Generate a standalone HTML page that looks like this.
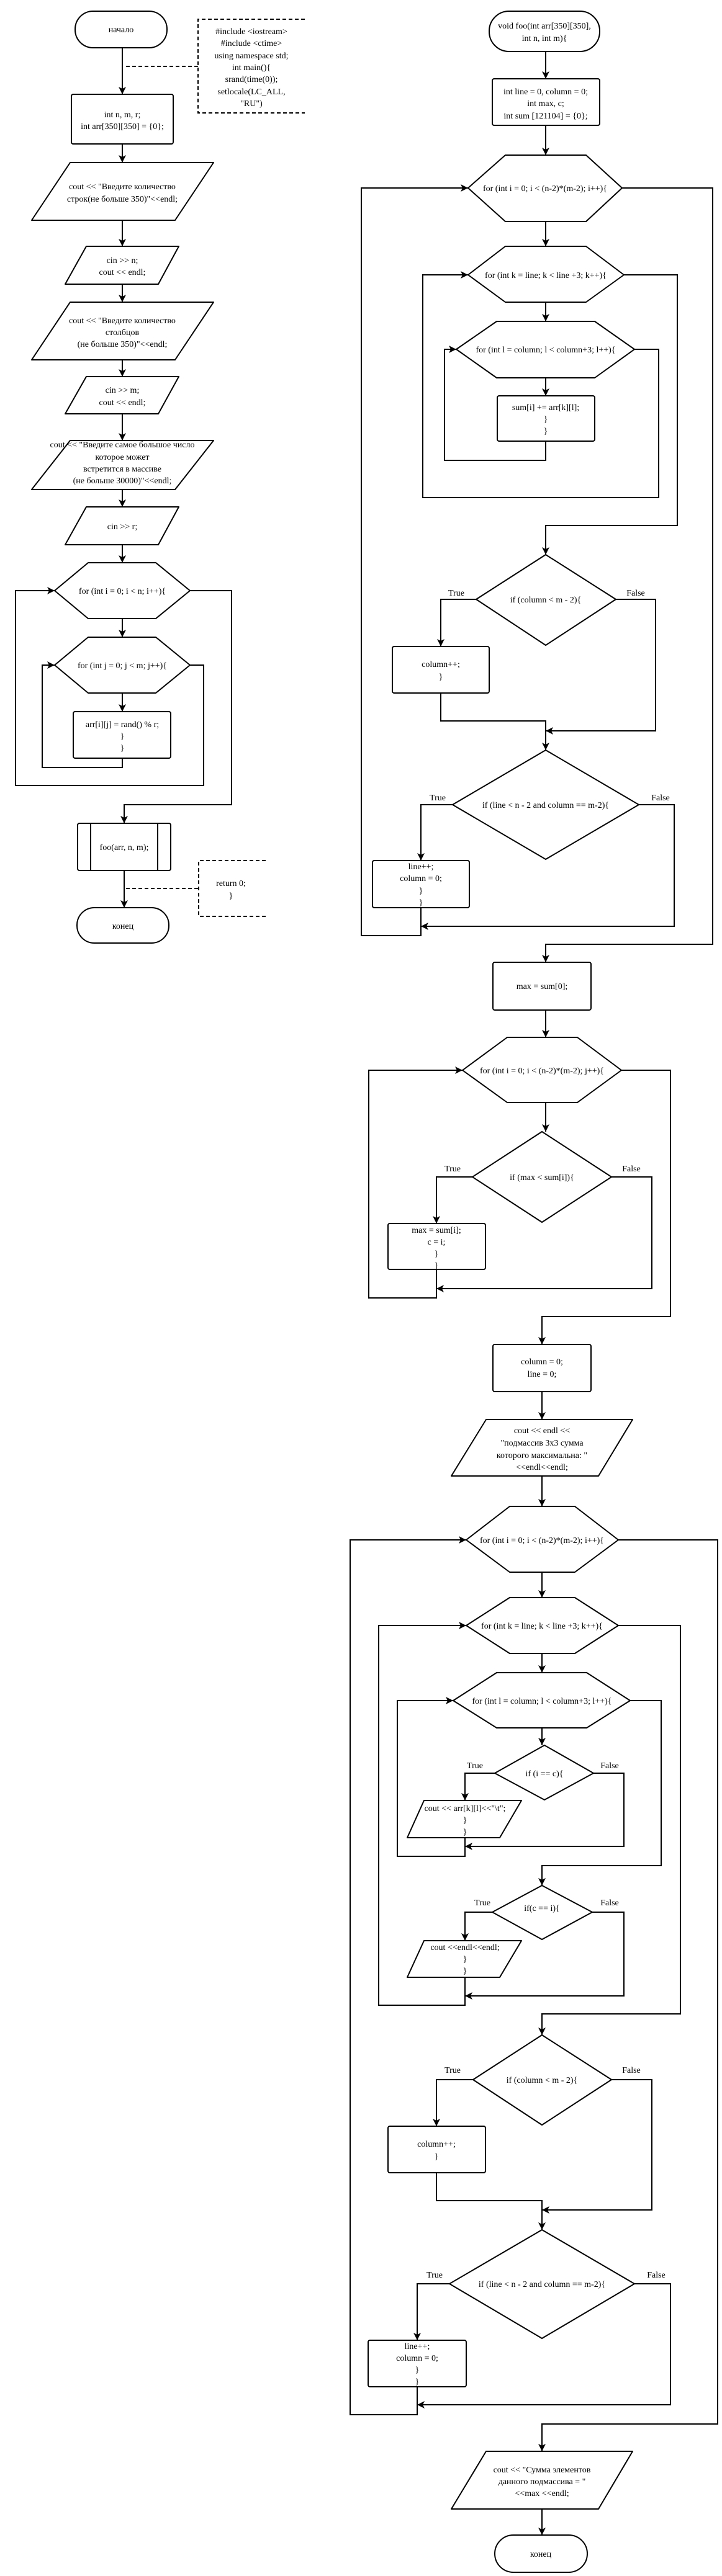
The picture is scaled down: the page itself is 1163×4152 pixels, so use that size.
<!DOCTYPE html>
<html><head><meta charset="utf-8">
<style>
html,body{margin:0;padding:0;background:#fff;}
svg{display:block;}
text{font-family:"Liberation Serif","DejaVu Serif",serif;font-size:14px;fill:#000;}
.s{fill:#fff;stroke:#000;stroke-width:2;stroke-linejoin:round;}
.c{fill:none;stroke:#000;stroke-width:2;}
.a{fill:none;stroke:#000;stroke-width:2;marker-end:url(#ar);}
.d{fill:none;stroke:#000;stroke-width:2;stroke-dasharray:6,4;}
</style></head>
<body>
<svg width="1163" height="4152" viewBox="0 0 1163 4152" xmlns="http://www.w3.org/2000/svg">
<defs>
<marker id="ar" markerUnits="userSpaceOnUse" markerWidth="14" markerHeight="14" refX="12" refY="6" orient="auto">
<path d="M0,0 L12,6 L0,12 L3,6 z" fill="#000"/>
</marker>
</defs>

<!-- LEFT COLUMN -->
<rect class="s" x="121" y="18" width="148" height="59" rx="29"/>
<text x="195" y="52" text-anchor="middle">начало</text>
<path class="d" d="M491,31 H319 V182 H491"/>
<path class="d" d="M203,107 H319"/>
<g text-anchor="middle">
<text x="405" y="55">#include &lt;iostream&gt;</text>
<text x="405" y="74">#include &lt;ctime&gt;</text>
<text x="405" y="94">using namespace std;</text>
<text x="405" y="113">int main(){</text>
<text x="405" y="132">srand(time(0));</text>
<text x="405" y="152">setlocale(LC_ALL,</text>
<text x="405" y="171">"RU")</text>
</g>
<path class="a" d="M197,77 V152"/>
<rect class="s" x="115" y="152" width="164" height="80" rx="3"/>
<text x="197" y="189" text-anchor="middle">int n, m, r;</text>
<text x="197" y="208" text-anchor="middle">int arr[350][350] = {0};</text>
<path class="a" d="M197,232 V262"/>
<polygon class="s" points="113,262 344,262 282,355 51,355"/>
<text x="197" y="305" text-anchor="middle">cout &lt;&lt; "Введите количество</text>
<text x="197" y="325" text-anchor="middle">строк(не больше 350)"&lt;&lt;endl;</text>
<path class="a" d="M197,355 V397"/>
<polygon class="s" points="139,397 288,397 255,458 105,458"/>
<text x="197" y="424" text-anchor="middle">cin &gt;&gt; n;</text>
<text x="197" y="443" text-anchor="middle">cout &lt;&lt; endl;</text>
<path class="a" d="M197,458 V487"/>
<polygon class="s" points="113,487 344,487 282,580 51,580"/>
<text x="197" y="521" text-anchor="middle">cout &lt;&lt; "Введите количество</text>
<text x="197" y="540" text-anchor="middle">столбцов</text>
<text x="197" y="559" text-anchor="middle">(не больше 350)"&lt;&lt;endl;</text>
<path class="a" d="M197,580 V607"/>
<polygon class="s" points="139,607 288,607 255,667 105,667"/>
<text x="197" y="633" text-anchor="middle">cin &gt;&gt; m;</text>
<text x="197" y="653" text-anchor="middle">cout &lt;&lt; endl;</text>
<path class="a" d="M197,667 V710"/>
<polygon class="s" points="113,710 344,710 282,789 51,789"/>
<text x="197" y="721" text-anchor="middle">cout &lt;&lt; "Введите самое большое число</text>
<text x="197" y="741" text-anchor="middle">которое может</text>
<text x="197" y="760" text-anchor="middle">встретится в массиве</text>
<text x="197" y="779" text-anchor="middle">(не больше 30000)"&lt;&lt;endl;</text>
<path class="a" d="M197,789 V817"/>
<polygon class="s" points="139,817 288,817 255,878 105,878"/>
<text x="197" y="853" text-anchor="middle">cin &gt;&gt; r;</text>
<path class="a" d="M197,878 V907"/>
<polygon class="s" points="88,952 142,907 251,907 306,952 251,997 142,997"/>
<text x="197" y="957" text-anchor="middle">for (int i = 0; i &lt; n; i++){</text>
<path class="a" d="M197,997 V1027"/>
<polygon class="s" points="88,1072 142,1027 251,1027 306,1072 251,1117 142,1117"/>
<text x="197" y="1077" text-anchor="middle">for (int j = 0; j &lt; m; j++){</text>
<path class="a" d="M197,1117 V1147"/>
<rect class="s" x="118" y="1147" width="157" height="75" rx="3"/>
<text x="197" y="1172" text-anchor="middle">arr[i][j] = rand() % r;</text>
<text x="197" y="1191" text-anchor="middle">}</text>
<text x="197" y="1210" text-anchor="middle">}</text>
<path class="a" d="M197,1222 V1237 H68 V1072 H88"/>
<path class="a" d="M306,1072 H328 V1266 H25 V952 H88"/>
<path class="a" d="M306,952 H373 V1297 H200 V1327"/>
<rect class="s" x="125" y="1327" width="150" height="76" rx="3"/>
<path class="c" d="M146,1327 V1403 M254,1327 V1403"/>
<text x="200" y="1370" text-anchor="middle">foo(arr, n, m);</text>
<path class="a" d="M200,1403 V1463"/>
<rect class="s" x="124" y="1463" width="148" height="57" rx="28"/>
<text x="198" y="1497" text-anchor="middle">конец</text>
<path class="d" d="M428,1387 H320 V1477 H428"/>
<path class="d" d="M203,1432 H320"/>
<text x="372" y="1428" text-anchor="middle">return 0;</text>
<text x="372" y="1448" text-anchor="middle">}</text>

<!-- RIGHT COLUMN -->
<rect class="s" x="788" y="18" width="178" height="65" rx="32"/>
<text x="877" y="46" text-anchor="middle">void foo(int arr[350][350],</text>
<text x="877" y="66" text-anchor="middle">int n, int m){</text>
<path class="a" d="M879,83 V127"/>
<rect class="s" x="793" y="127" width="173" height="75" rx="3"/>
<text x="879" y="152" text-anchor="middle">int line = 0, column = 0;</text>
<text x="879" y="171" text-anchor="middle">int max, c;</text>
<text x="879" y="191" text-anchor="middle">int sum [121104] = {0};</text>
<path class="a" d="M879,202 V250"/>
<polygon class="s" points="754,303 814,250 944,250 1002,303 944,357 814,357"/>
<text x="878" y="308" text-anchor="middle">for (int i = 0; i &lt; (n-2)*(m-2); i++){</text>
<path class="a" d="M879,357 V397"/>
<polygon class="s" points="754,443 814,397 944,397 1005,443 944,487 814,487"/>
<text x="879" y="448" text-anchor="middle">for (int k = line; k &lt; line +3; k++){</text>
<path class="a" d="M879,487 V518"/>
<polygon class="s" points="735,563 800,518 958,518 1022,563 958,609 800,609"/>
<text x="879" y="568" text-anchor="middle">for (int l = column; l &lt; column+3; l++){</text>
<path class="a" d="M879,609 V638"/>
<rect class="s" x="801" y="638" width="157" height="73" rx="3"/>
<text x="879" y="661" text-anchor="middle">sum[i] += arr[k][l];</text>
<text x="879" y="680" text-anchor="middle">}</text>
<text x="879" y="699" text-anchor="middle">}</text>
<path class="a" d="M879,711 V742 H716 V563 H735"/>
<path class="a" d="M1022,563 H1061 V802 H681 V443 H754"/>
<path class="a" d="M1005,443 H1091 V847 H879 V894"/>
<polygon class="s" points="879,894 992,966 879,1040 767,966"/>
<text x="879" y="971" text-anchor="middle">if (column &lt; m - 2){</text>
<text x="735" y="960" text-anchor="middle">True</text>
<text x="1024" y="960" text-anchor="middle">False</text>
<path class="a" d="M767,966 H710 V1042"/>
<rect class="s" x="632" y="1042" width="156" height="75" rx="3"/>
<text x="710" y="1075" text-anchor="middle">column++;</text>
<text x="710" y="1095" text-anchor="middle">}</text>
<path class="a" d="M710,1117 V1162 H879 V1209"/>
<path class="a" d="M992,966 H1056 V1178 H879"/>
<polygon class="s" points="879,1209 1029,1297 879,1385 729,1297"/>
<text x="879" y="1302" text-anchor="middle">if (line &lt; n - 2 and column == m-2){</text>
<text x="705" y="1290" text-anchor="middle">True</text>
<text x="1064" y="1290" text-anchor="middle">False</text>
<path class="a" d="M729,1297 H678 V1387"/>
<rect class="s" x="600" y="1387" width="156" height="76" rx="3"/>
<text x="678" y="1401" text-anchor="middle">line++;</text>
<text x="678" y="1420" text-anchor="middle">column = 0;</text>
<text x="678" y="1440" text-anchor="middle">}</text>
<text x="678" y="1459" text-anchor="middle">}</text>
<path class="a" d="M678,1463 V1508 H582 V303 H754"/>
<path class="a" d="M1029,1297 H1086 V1493 H678"/>
<path class="a" d="M1002,303 H1148 V1522 H879 V1551"/>
<rect class="s" x="794" y="1551" width="158" height="77" rx="3"/>
<text x="873" y="1594" text-anchor="middle">max = sum[0];</text>
<path class="a" d="M879,1628 V1672"/>
<polygon class="s" points="745,1725 817,1672 930,1672 1001,1725 930,1777 817,1777"/>
<text x="873" y="1730" text-anchor="middle">for (int i = 0; i &lt; (n-2)*(m-2); j++){</text>
<path class="a" d="M879,1777 V1824"/>
<polygon class="s" points="873,1824 985,1897 873,1970 761,1897"/>
<text x="873" y="1902" text-anchor="middle">if (max &lt; sum[i]){</text>
<text x="729" y="1888" text-anchor="middle">True</text>
<text x="1017" y="1888" text-anchor="middle">False</text>
<path class="a" d="M761,1897 H703 V1972"/>
<rect class="s" x="625" y="1972" width="157" height="74" rx="3"/>
<text x="703" y="1987" text-anchor="middle">max = sum[i];</text>
<text x="703" y="2006" text-anchor="middle">c = i;</text>
<text x="703" y="2025" text-anchor="middle">}</text>
<text x="703" y="2044" text-anchor="middle">}</text>
<path class="a" d="M703,2046 V2092 H594 V1725 H745"/>
<path class="a" d="M985,1897 H1050 V2077 H703"/>
<path class="a" d="M1001,1725 H1080 V2122 H873 V2167"/>
<rect class="s" x="794" y="2167" width="158" height="76" rx="3"/>
<text x="873" y="2199" text-anchor="middle">column = 0;</text>
<text x="873" y="2219" text-anchor="middle">line = 0;</text>
<path class="a" d="M873,2243 V2288"/>
<polygon class="s" points="783,2288 1019,2288 964,2379 727,2379"/>
<text x="873" y="2310" text-anchor="middle">cout &lt;&lt; endl &lt;&lt;</text>
<text x="873" y="2330" text-anchor="middle">"подмассив 3x3 сумма</text>
<text x="873" y="2350" text-anchor="middle">которого максимальна: "</text>
<text x="873" y="2369" text-anchor="middle">&lt;&lt;endl&lt;&lt;endl;</text>
<path class="a" d="M873,2379 V2428"/>
<polygon class="s" points="751,2482 821,2428 926,2428 996,2482 926,2534 821,2534"/>
<text x="873" y="2487" text-anchor="middle">for (int i = 0; i &lt; (n-2)*(m-2); i++){</text>
<path class="a" d="M873,2534 V2575"/>
<polygon class="s" points="751,2620 821,2575 926,2575 996,2620 926,2665 821,2665"/>
<text x="873" y="2625" text-anchor="middle">for (int k = line; k &lt; line +3; k++){</text>
<path class="a" d="M873,2665 V2696"/>
<polygon class="s" points="730,2741 800,2696 945,2696 1015,2741 945,2785 800,2785"/>
<text x="873" y="2746" text-anchor="middle">for (int l = column; l &lt; column+3; l++){</text>
<path class="a" d="M873,2785 V2813"/>
<polygon class="s" points="877,2813 956,2858 877,2901 797,2858"/>
<text x="877" y="2863" text-anchor="middle">if (i == c){</text>
<text x="765" y="2850" text-anchor="middle">True</text>
<text x="982" y="2850" text-anchor="middle">False</text>
<path class="a" d="M797,2858 H749 V2902"/>
<polygon class="s" points="683,2902 840,2902 805,2962 656,2962"/>
<text x="749" y="2919" text-anchor="middle">cout &lt;&lt; arr[k][l]&lt;&lt;"\t";</text>
<text x="749" y="2938" text-anchor="middle">}</text>
<text x="749" y="2957" text-anchor="middle">}</text>
<path class="a" d="M749,2962 V2992 H640 V2741 H730"/>
<path class="a" d="M956,2858 H1005 V2976 H749"/>
<path class="a" d="M1015,2741 H1065 V3007 H873 V3039"/>
<polygon class="s" points="873,3039 954,3082 873,3126 793,3082"/>
<text x="873" y="3080" text-anchor="middle">if(c == i){</text>
<text x="777" y="3071" text-anchor="middle">True</text>
<text x="982" y="3071" text-anchor="middle">False</text>
<path class="a" d="M793,3082 H749 V3128"/>
<polygon class="s" points="683,3128 840,3128 805,3187 656,3187"/>
<text x="749" y="3143" text-anchor="middle">cout &lt;&lt;endl&lt;&lt;endl;</text>
<text x="749" y="3162" text-anchor="middle">}</text>
<text x="749" y="3181" text-anchor="middle">}</text>
<path class="a" d="M749,3187 V3232 H610 V2620 H751"/>
<path class="a" d="M954,3082 H1005 V3217 H749"/>
<path class="a" d="M996,2620 H1096 V3246 H873 V3280"/>
<polygon class="s" points="873,3280 985,3352 873,3425 762,3352"/>
<text x="873" y="3357" text-anchor="middle">if (column &lt; m - 2){</text>
<text x="729" y="3341" text-anchor="middle">True</text>
<text x="1017" y="3341" text-anchor="middle">False</text>
<path class="a" d="M762,3352 H703 V3427"/>
<rect class="s" x="625" y="3427" width="157" height="75" rx="3"/>
<text x="703" y="3460" text-anchor="middle">column++;</text>
<text x="703" y="3480" text-anchor="middle">}</text>
<path class="a" d="M703,3502 V3547 H873 V3594"/>
<path class="a" d="M985,3352 H1050 V3562 H873"/>
<polygon class="s" points="873,3594 1022,3681 873,3769 724,3681"/>
<text x="873" y="3686" text-anchor="middle">if (line &lt; n - 2 and column == m-2){</text>
<text x="700" y="3671" text-anchor="middle">True</text>
<text x="1057" y="3671" text-anchor="middle">False</text>
<path class="a" d="M724,3681 H672 V3772"/>
<rect class="s" x="593" y="3772" width="158" height="75" rx="3"/>
<text x="672" y="3786" text-anchor="middle">line++;</text>
<text x="672" y="3805" text-anchor="middle">column = 0;</text>
<text x="672" y="3824" text-anchor="middle">}</text>
<text x="672" y="3843" text-anchor="middle">}</text>
<path class="a" d="M672,3847 V3892 H564 V2482 H751"/>
<path class="a" d="M1022,3681 H1080 V3876 H672"/>
<path class="a" d="M996,2482 H1156 V3907 H873 V3951"/>
<polygon class="s" points="783,3951 1019,3951 964,4044 727,4044"/>
<text x="873" y="3985" text-anchor="middle">cout &lt;&lt; "Сумма элементов</text>
<text x="873" y="4004" text-anchor="middle">данного подмассива = "</text>
<text x="873" y="4023" text-anchor="middle">&lt;&lt;max &lt;&lt;endl;</text>
<path class="a" d="M873,4044 V4086"/>
<rect class="s" x="797" y="4086" width="149" height="60" rx="30"/>
<text x="871" y="4121" text-anchor="middle">конец</text>
</svg>
</body></html>
